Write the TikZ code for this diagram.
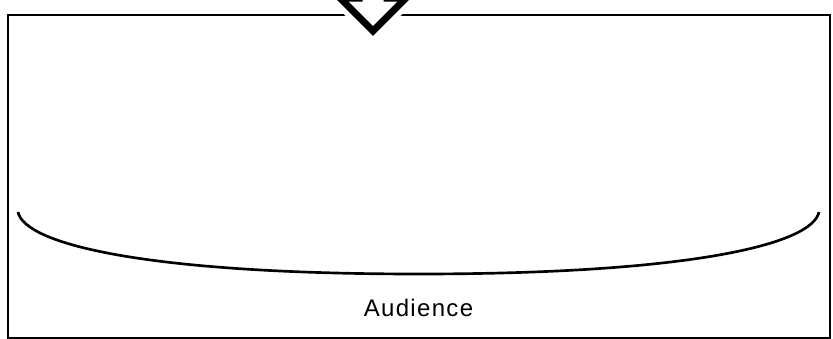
\documentclass[tikz,border=0pt]{standalone}
\usepackage{fontspec}
\setmainfont{Liberation Sans}
\newfontfamily\labelfont[LetterSpace=5.5]{Liberation Sans}
\begin{document}
\begin{tikzpicture}[x=0.75pt,y=-0.75pt,
  frameline/.style={draw=black,line width=1.5pt},
  arrowline/.style={draw=black,line width=5.25pt,miter limit=10,line join=miter},
  arrowhalo/.style={draw=white,fill=white,line width=13pt,line join=miter},
  smile/.style={draw=black,line width=2pt,line cap=butt},
  labeltext/.style={font=\labelfont\fontsize{18pt}{21pt}\selectfont,inner sep=0pt,anchor=base}]
\useasboundingbox (0,0) rectangle (833,339);
\clip (0,0) rectangle (833,339);
\fill[white] (0,0) rectangle (833,339);
\node[frameline,minimum width=822*0.75pt,minimum height=323*0.75pt,inner sep=0pt,anchor=north west] (frame) at (7,14) {};
% down arrow (head visible only)
\path[arrowhalo] (359,-60) -- (359,-2) -- (340,-2) -- (373,31) -- (406,-2) -- (387,-2) -- (387,-60);
\draw[arrowline] (359,-60) -- (359,-2) -- (340,-2) -- (373,31) -- (406,-2) -- (387,-2) -- (387,-60);
\coordinate (cl) at (18,212);
\coordinate (cm) at (418.5,274);
\coordinate (cr) at (819,212);
\draw[smile] (cl) .. controls (25,245) and (150,274) .. (cm) .. controls (687,274) and (812,245) .. (cr);
\node[labeltext] (audience) at (418.5,316.8) {Audience};
\end{tikzpicture}
\end{document}
